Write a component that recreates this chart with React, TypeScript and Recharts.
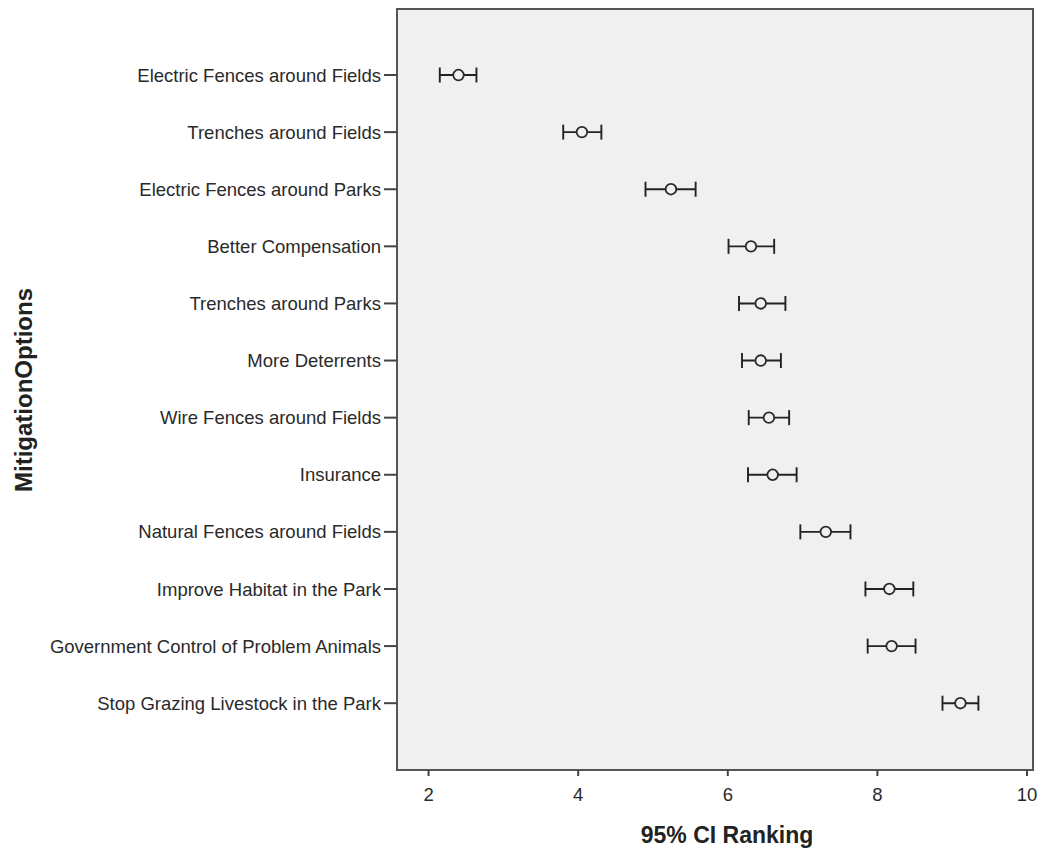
import React from 'react';
import { ScatterChart, Scatter, XAxis, YAxis, ErrorBar, ReferenceArea } from 'recharts';

const options = [
  'Electric Fences around Fields',
  'Trenches around Fields',
  'Electric Fences around Parks',
  'Better Compensation',
  'Trenches around Parks',
  'More Deterrents',
  'Wire Fences around Fields',
  'Insurance',
  'Natural Fences around Fields',
  'Improve Habitat in the Park',
  'Government Control of Problem Animals',
  'Stop Grazing Livestock in the Park',
];
const means = [2.40, 4.05, 5.24, 6.31, 6.44, 6.44, 6.55, 6.60, 7.31, 8.16, 8.19, 9.11];
const lower = [2.15, 3.80, 4.90, 6.01, 6.15, 6.19, 6.28, 6.27, 6.97, 7.84, 7.87, 8.87];
const upper = [2.64, 4.31, 5.57, 6.62, 6.77, 6.71, 6.82, 6.92, 7.64, 8.48, 8.51, 9.35];
const xTicks = [2, 4, 6, 8, 10];

const data = options.map((name, i) => ({
  name,
  idx: i,
  mean: means[i],
  err: [means[i] - lower[i], upper[i] - means[i]],
}));
const yTicks = options.map((_, i) => i);

const FONT = '"Liberation Sans", Arial, sans-serif';

const HollowCircle = (props: any) => {
  const { cx, cy } = props;
  if (cx == null || cy == null) return <g />;
  return <circle cx={cx} cy={cy} r={5.3} fill="#f0f0f0" stroke="#2a2a2a" strokeWidth={1.8} />;
};

export default function App() {
  return (
    <div style={{ position: 'absolute', left: 0, top: 0, width: 1064, height: 852, background: '#fff' }}>
      <ScatterChart width={1064} height={852} margin={{ top: 9, right: 31, bottom: 0, left: 0 }}>
        <ReferenceArea
          x1={1.578}
          x2={10.08}
          y1={-1.156}
          y2={12.17}
          fill="#f0f0f0"
          fillOpacity={1}
          stroke="#555"
          strokeWidth={2}
          ifOverflow="extendDomain"
        />
        <XAxis
          type="number"
          dataKey="mean"
          domain={[1.578, 10.08]}
          allowDataOverflow
          ticks={xTicks}
          height={82}
          tickSize={6}
          tickMargin={12}
          axisLine={false}
          tickLine={{ stroke: '#444', strokeWidth: 2 }}
          tick={{ fill: '#2a2a2a', fontSize: 18.5, fontFamily: FONT }}
          label={{
            content: () => (
              <text x={727} y={843} textAnchor="middle" fontFamily={FONT} fontWeight="bold" fontSize={23} fill="#222">
                95% CI Ranking
              </text>
            ),
          }}
        />
        <YAxis
          type="number"
          dataKey="idx"
          domain={[-1.156, 12.17]}
          allowDataOverflow
          reversed
          ticks={yTicks}
          interval={0}
          width={397}
          tickSize={13}
          tickMargin={3}
          axisLine={false}
          tickLine={{ stroke: '#444', strokeWidth: 2 }}
          tickFormatter={(v: number) => options[v] ?? ''}
          tick={{ fill: '#2a2a2a', fontSize: 18.5, fontFamily: FONT }}
          label={{
            content: () => (
              <text
                x={32}
                y={390}
                transform="rotate(-90 32 390)"
                textAnchor="middle"
                fontFamily={FONT}
                fontWeight="bold"
                fontSize={24}
                fill="#222"
              >
                MitigationOptions
              </text>
            ),
          }}
        />
        <Scatter data={data} isAnimationActive={false} shape={HollowCircle}>
          <ErrorBar dataKey="err" direction="x" width={7.5} stroke="#222" strokeWidth={1.9} isAnimationActive={false} />
        </Scatter>
      </ScatterChart>
    </div>
  );
}
